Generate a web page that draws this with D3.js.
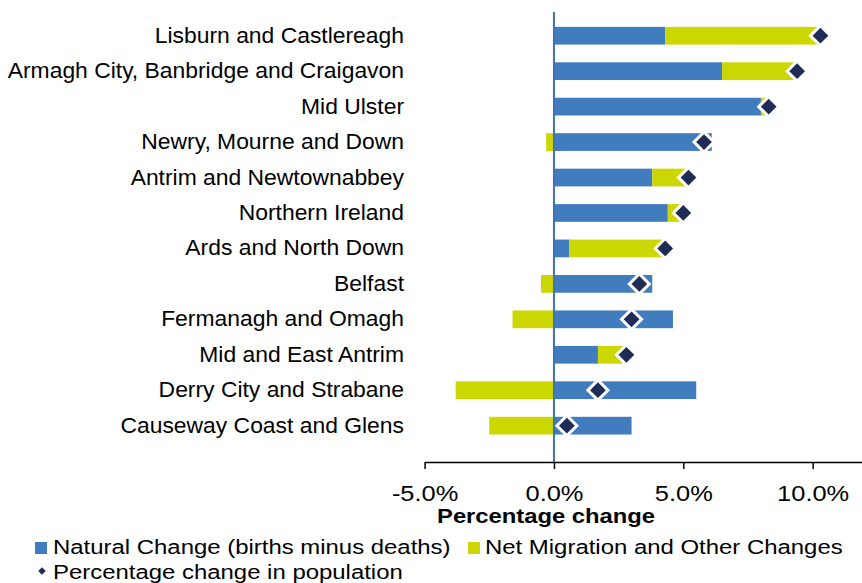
<!DOCTYPE html>
<html>
<head>
<meta charset="utf-8">
<script src="https://cdn.jsdelivr.net/npm/d3@7"></script>
<style>
  body { margin: 0; background: #fff; }
  text { font-family: "Liberation Sans", Arial, sans-serif; fill: #000; }
</style>
</head>
<body>
<svg id="chart"></svg>
<script>
const categories = [
  "Lisburn and Castlereagh",
  "Armagh City, Banbridge and Craigavon",
  "Mid Ulster",
  "Newry, Mourne and Down",
  "Antrim and Newtownabbey",
  "Northern Ireland",
  "Ards and North Down",
  "Belfast",
  "Fermanagh and Omagh",
  "Mid and East Antrim",
  "Derry City and Strabane",
  "Causeway Coast and Glens"
];
const naturalChange = [4.3, 6.5, 8.0, 6.1, 3.8, 4.4, 0.6, 3.8, 4.6, 1.7, 5.5, 3.0];
const netMigration = [6.0, 2.9, 0.3, -0.3, 1.4, 0.6, 3.7, -0.5, -1.6, 1.1, -3.8, -2.5];
const popChange = [10.3, 9.4, 8.3, 5.8, 5.2, 5.0, 4.3, 3.3, 3.0, 2.8, 1.7, 0.5];
const tickValues = [-5, 0, 5, 10];

const width = 862;
const height = 583;
const blue = "#417cbf";
const green = "#ccd600";
const navy = "#1f2d56";

const svg = d3.select("#chart")
  .attr("width", width)
  .attr("height", height);

const x = d3.scaleLinear().domain([-5, 12]).range([424.6, 864.4]);
const y = d3.scaleBand().domain(categories).range([18, 443.4])
  .paddingInner(0.5).paddingOuter(0.25);

// text in the original is a little stretched sideways
function label(g, tx, ty, str, size, sx, anchor) {
  return g.append("text")
    .attr("transform", `translate(${tx},${ty}) scale(${sx},1)`)
    .attr("text-anchor", anchor || "start")
    .attr("font-size", size)
    .text(str);
}

// stack positives to the right, negatives to the left
const segments = [];
categories.forEach((c, i) => {
  let pos = 0, neg = 0;
  [[naturalChange[i], blue], [netMigration[i], green]].forEach(([v, col]) => {
    if (v >= 0) { segments.push({ c, x0: pos, x1: pos + v, col }); pos += v; }
    else { segments.push({ c, x0: neg + v, x1: neg, col }); neg += v; }
  });
});

svg.append("g").selectAll("rect")
  .data(segments)
  .join("rect")
  .attr("x", d => x(d.x0))
  .attr("width", d => x(d.x1) - x(d.x0))
  .attr("y", d => y(d.c))
  .attr("height", y.bandwidth())
  .attr("fill", d => d.col);

// x axis
const xAxis = svg.append("g")
  .attr("transform", "translate(0,462)")
  .call(d3.axisBottom(x).tickValues(tickValues).tickSize(7).tickSizeOuter(0)
    .tickFormat(d => d.toFixed(1) + "%"));
xAxis.select(".domain").attr("stroke", "#000").attr("stroke-width", 1.5);
xAxis.selectAll(".tick line").attr("stroke", "#000").attr("stroke-width", 1.5);
xAxis.selectAll(".tick text")
  .attr("y", 23)
  .attr("transform", "scale(1.13,1)")
  .attr("font-size", 22.5)
  .attr("font-family", "Liberation Sans, Arial, sans-serif");

label(svg, 546, 523, "Percentage change", 20.5, 1.16, "middle")
  .attr("font-weight", "bold");

// zero line
svg.append("line")
  .attr("x1", x(0)).attr("x2", x(0))
  .attr("y1", 12).attr("y2", 462)
  .attr("stroke", "#3f72b2")
  .attr("stroke-width", 2);

// category labels
const cats = svg.append("g");
categories.forEach(c => {
  label(cats, 404, y(c) + y.bandwidth() / 2, c, 22, 1.04, "end").attr("dy", "0.32em");
});

// diamonds for total change
const diamond = d3.symbol().type(d3.symbolSquare).size(200);
svg.append("g").selectAll("path")
  .data(categories)
  .join("path")
  .attr("d", diamond)
  .attr("transform", (d, i) => `translate(${x(popChange[i])},${y(d) + y.bandwidth() / 2}) rotate(45)`)
  .attr("fill", navy)
  .attr("stroke", "#fff")
  .attr("stroke-width", 3);

// legend
const legend = svg.append("g");
legend.append("rect").attr("x", 35).attr("y", 542).attr("width", 12).attr("height", 12).attr("fill", blue);
label(legend, 53, 554, "Natural Change (births minus deaths)", 21, 1.14);
legend.append("rect").attr("x", 468).attr("y", 542).attr("width", 12).attr("height", 12).attr("fill", green);
label(legend, 485, 554, "Net Migration and Other Changes", 21, 1.14);
legend.append("path")
  .attr("d", d3.symbol().type(d3.symbolSquare).size(28))
  .attr("transform", "translate(42,571) rotate(45)")
  .attr("fill", navy);
label(legend, 53, 579, "Percentage change in population", 21, 1.14);
</script>
</body>
</html>
